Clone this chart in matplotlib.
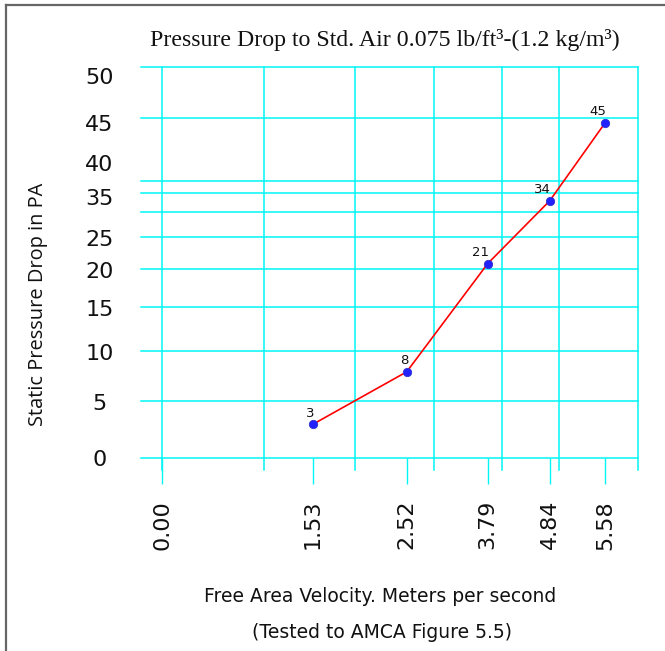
import numpy as np
import matplotlib
matplotlib.use("Agg")
import matplotlib.pyplot as plt
from matplotlib.lines import Line2D

# ---------------- data ----------------
x_tick_values = [0.00, 1.53, 2.52, 3.79, 4.84, 5.58]
x_tick_labels = ["0.00", "1.53", "2.52", "3.79", "4.84", "5.58"]
velocity = [1.53, 2.52, 3.79, 4.84, 5.58]
pressure = [3, 8, 21, 34, 45]
point_labels = ["3", "8", "21", "34", "45"]
y_tick_values = [0, 5, 10, 15, 20, 25, 35, 40, 45, 50]
y_tick_labels = [str(v) for v in y_tick_values]

title = "Pressure Drop to Std. Air 0.075 lb/ft\u00b3-(1.2 kg/m\u00b3)"
ylabel = "Static Pressure Drop in PA"
xlabel1 = "Free Area Velocity. Meters per second"
xlabel2 = "(Tested to AMCA Figure 5.5)"

# ---------------- layout (pixels) ----------------
W, H = 665, 651
ax_left, ax_right, ax_top, ax_bottom = 140.7, 638.3, 67.3, 458.3
# axis scale knots: where tick values sit (pixel positions)
x_knot_px = [162.3, 312.7, 406.7, 487.7, 549.7, 605.0]
y_knot_py = [458.0, 402.0, 351.7, 308.0, 270.0, 238.0, 196.7, 163.0, 123.0, 76.0]
# grid lines (pixel positions)
vgrid_px = [162.3, 264.3, 355.0, 434.3, 502.3, 559.2, 638.3]
hgrid_py = [67.3, 118.0, 180.7, 193.3, 212.3, 237.3, 269.0, 306.7, 350.7, 401.3, 458.3]

CYAN = "#00f5f5"


def piecewise(xk, yk):
    xk = np.asarray(xk, float)
    yk = np.asarray(yk, float)
    s0 = (yk[1] - yk[0]) / (xk[1] - xk[0])
    s1 = (yk[-1] - yk[-2]) / (xk[-1] - xk[-2])

    def f(v):
        v = np.asarray(v, float)
        out = np.interp(v, xk, yk)
        out = np.where(v < xk[0], yk[0] + (v - xk[0]) * s0, out)
        out = np.where(v > xk[-1], yk[-1] + (v - xk[-1]) * s1, out)
        return out
    return f


x_fwd = piecewise(x_tick_values, x_knot_px)
x_inv = piecewise(x_knot_px, x_tick_values)
y_h = [H - p for p in y_knot_py]
y_fwd = piecewise(y_tick_values, y_h)
y_inv = piecewise(y_h, y_tick_values)

fig = plt.figure(figsize=(W / 100, H / 100), dpi=100)
ax = fig.add_axes([ax_left / W, 1 - ax_bottom / H,
                   (ax_right - ax_left) / W, (ax_bottom - ax_top) / H])
ax.set_xscale("function", functions=(x_fwd, x_inv))
ax.set_yscale("function", functions=(y_fwd, y_inv))
ax.set_xlim(float(x_inv(ax_left)), float(x_inv(ax_right)))
ax.set_ylim(float(y_inv(H - ax_bottom)), float(y_inv(H - ax_top)))

for s in ax.spines.values():
    s.set_visible(False)

# grid
ext = -(470 - ax_bottom) / (ax_bottom - ax_top)
for px in vgrid_px:
    ax.axvline(float(x_inv(px)), ymin=ext, ymax=1, color=CYAN, lw=1.1,
               clip_on=False, zorder=1)
for py in hgrid_py:
    ax.axhline(float(y_inv(H - py)), color=CYAN, lw=1.1, clip_on=False, zorder=1)

# data
ax.plot(velocity, pressure, color="#ff0000", lw=1.2, zorder=3)
ax.plot(velocity, pressure, "o", color="#2222ff", mec="#3030d0", ms=6, mew=0.6,
        zorder=4)
for xv, yv, t in zip(velocity, pressure, point_labels):
    ax.annotate(t, (xv, yv), xytext=(1.0, 3.5), textcoords="offset points",
                ha="right", va="bottom", fontsize=9.5, family="DejaVu Sans",
                color="#111111")

# ticks
ax.set_xticks(x_tick_values, labels=x_tick_labels)
ax.tick_params(axis="x", length=18.7, width=1.0, color=CYAN, pad=11.3,
               labelrotation=90, labelsize=16)
ax.xaxis.set_minor_locator(matplotlib.ticker.NullLocator())
ax.set_yticks(y_tick_values, labels=y_tick_labels)
ax.yaxis.set_minor_locator(matplotlib.ticker.NullLocator())
ax.tick_params(axis="y", length=0, pad=29.7, labelsize=16)
for lbl in ax.get_yticklabels():
    lbl.set_horizontalalignment("center")
for lbl in ax.get_xticklabels() + ax.get_yticklabels():
    lbl.set_family("DejaVu Sans")
    lbl.set_color("#111111")

# texts
fig.text(384.5 / W, 1 - 40 / H, title, ha="center", va="center",
         family="Liberation Serif", fontsize=17.2, color="#111111")
fig.text(38 / W, 1 - 304 / H, ylabel, rotation=90, ha="center", va="center",
         family="Open Sans", fontsize=14.4, color="#111111")
fig.text(380 / W, 1 - 596.7 / H, xlabel1, ha="center", va="center",
         family="DejaVu Sans", fontsize=13.5, color="#111111")
fig.text(381.7 / W, 1 - 633 / H, xlabel2, ha="center", va="center",
         family="DejaVu Sans", fontsize=13.5, color="#111111")

# frame lines (left and top)
fig.add_artist(Line2D([6 / W, 6 / W], [0, 1 - 5 / H], transform=fig.transFigure,
                      color="#666666", lw=1.6))
fig.add_artist(Line2D([6 / W, 1], [1 - 5 / H, 1 - 5 / H], transform=fig.transFigure,
                      color="#666666", lw=1.6))

fig.savefig("out.png", dpi=100)
